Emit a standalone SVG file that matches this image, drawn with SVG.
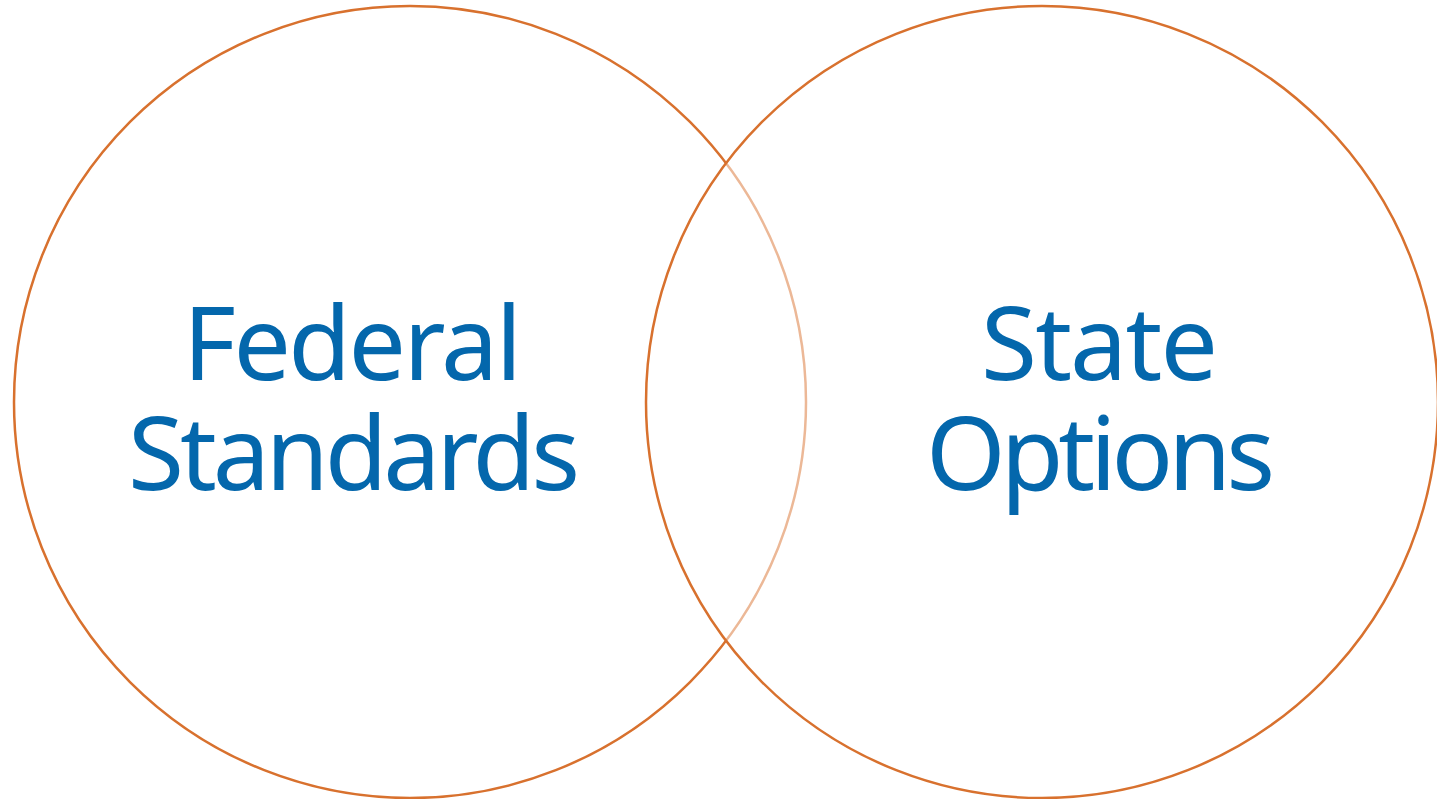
<svg xmlns="http://www.w3.org/2000/svg" width="1437" height="799" viewBox="0 0 1437 799">
  <style>
    .ring { stroke: #D8712E; stroke-width: 2.5; }
    .label { font-family: "Noto Sans", "Open Sans", sans-serif; font-size: 102px; fill: #0467AC; }
  </style>
  <rect width="1437" height="799" fill="#FFFFFF"/>
  <g id="federal">
    <circle class="ring" cx="410" cy="402" r="396" fill="#FFFFFF"/>
    <text class="label" x="183" y="380" textLength="339" lengthAdjust="spacing">Federal</text>
    <text class="label" x="128" y="490" textLength="452" lengthAdjust="spacing">Standards</text>
  </g>
  <!-- the right ring sits on top with a half-transparent fill, fading the left ring's arc inside it -->
  <g id="state">
    <circle class="ring" cx="1042" cy="402" r="396" fill="#FFFFFF" fill-opacity="0.5"/>
    <text class="label" x="981" y="380" textLength="237" lengthAdjust="spacing">State</text>
    <text class="label" x="926" y="490" textLength="349" lengthAdjust="spacing">Options</text>
  </g>
</svg>
